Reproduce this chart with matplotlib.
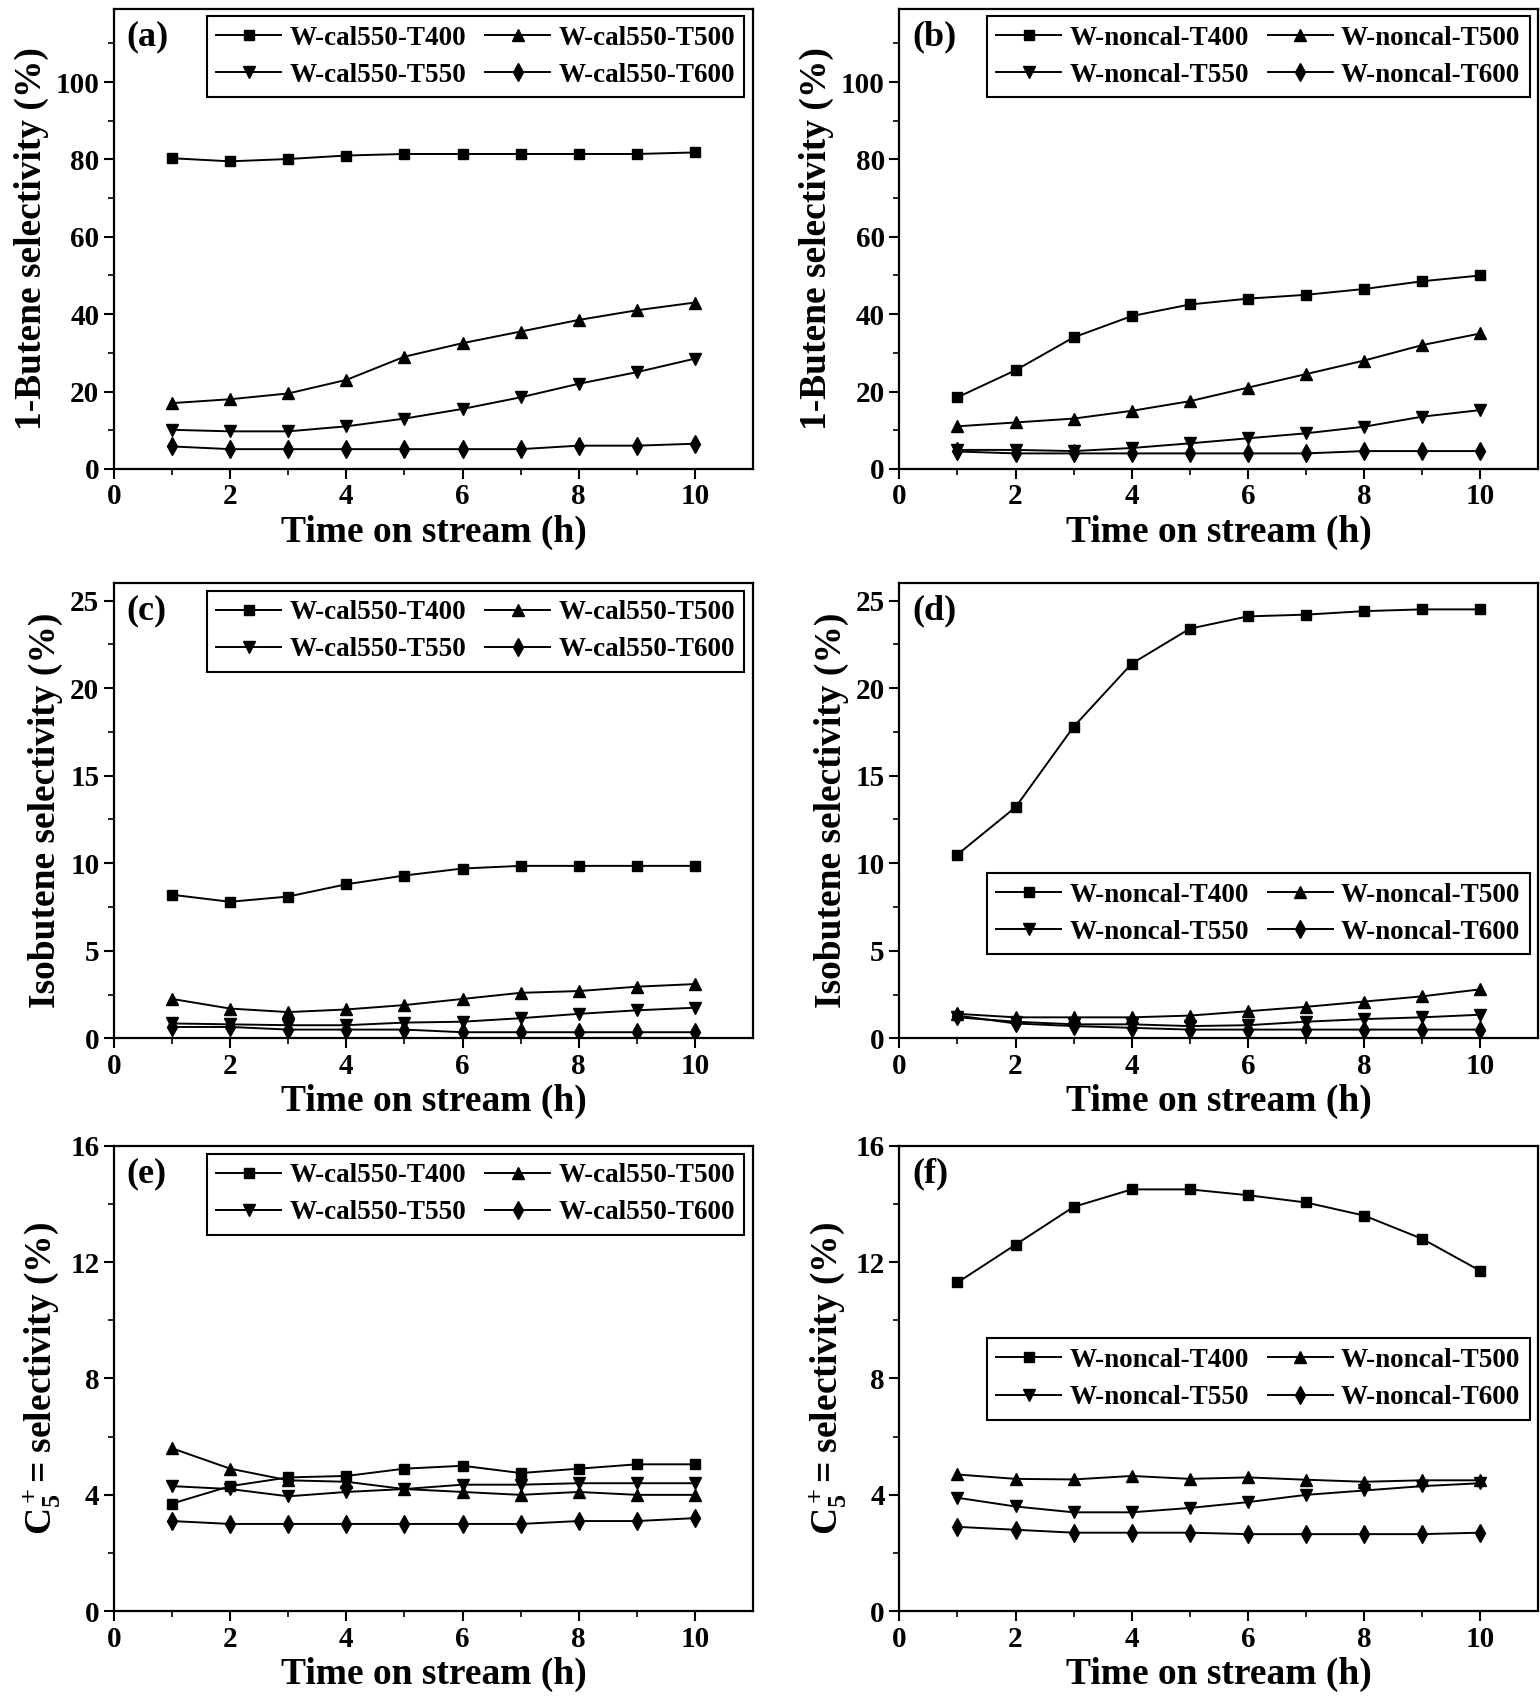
import numpy as np
import matplotlib.pyplot as plt

plt.rcParams['font.family'] = ['Liberation Serif', 'DejaVu Serif']
plt.rcParams['font.weight'] = 'bold'
plt.rcParams['mathtext.fontset'] = 'custom'
plt.rcParams['mathtext.rm'] = 'Liberation Serif:bold'
plt.rcParams['mathtext.it'] = 'Liberation Serif:bold'
plt.rcParams['mathtext.bf'] = 'Liberation Serif:bold'

# time on stream (h)
hours = [1, 2, 3, 4, 5, 6, 7, 8, 9, 10]

# 1-butene selectivity (%)
but_cal_400 = [80.3, 79.5, 80.1, 81.0, 81.4, 81.4, 81.4, 81.4, 81.4, 81.8]
but_cal_500 = [17.0, 18.0, 19.5, 23.0, 29.0, 32.5, 35.5, 38.5, 41.0, 43.0]
but_cal_550 = [10.1, 9.7, 9.7, 11.0, 13.0, 15.5, 18.5, 22.0, 25.0, 28.5]
but_cal_600 = [5.8, 5.1, 5.1, 5.1, 5.1, 5.1, 5.1, 6.0, 6.0, 6.5]

but_non_400 = [18.5, 25.5, 34.0, 39.5, 42.5, 44.0, 45.0, 46.5, 48.5, 50.0]
but_non_500 = [11.0, 12.0, 13.0, 15.0, 17.5, 21.0, 24.5, 28.0, 32.0, 35.0]
but_non_550 = [4.9, 4.9, 4.6, 5.4, 6.6, 7.9, 9.2, 10.9, 13.5, 15.2]
but_non_600 = [4.5, 4.0, 4.0, 4.0, 4.0, 4.0, 4.0, 4.6, 4.6, 4.6]

# isobutene selectivity (%)
iso_cal_400 = [8.2, 7.8, 8.1, 8.8, 9.3, 9.7, 9.85, 9.85, 9.85, 9.85]
iso_cal_500 = [2.25, 1.7, 1.5, 1.65, 1.9, 2.25, 2.6, 2.7, 2.95, 3.1]
iso_cal_550 = [0.85, 0.8, 0.75, 0.75, 0.9, 0.95, 1.15, 1.4, 1.6, 1.75]
iso_cal_600 = [0.65, 0.65, 0.5, 0.5, 0.5, 0.35, 0.35, 0.35, 0.35, 0.35]

iso_non_400 = [10.5, 13.2, 17.8, 21.4, 23.4, 24.1, 24.2, 24.4, 24.5, 24.5]
iso_non_500 = [1.4, 1.2, 1.2, 1.2, 1.3, 1.55, 1.8, 2.1, 2.4, 2.8]
iso_non_550 = [1.2, 0.95, 0.8, 0.8, 0.7, 0.75, 0.95, 1.1, 1.2, 1.35]
iso_non_600 = [1.3, 0.85, 0.7, 0.6, 0.5, 0.5, 0.5, 0.5, 0.5, 0.5]

# C5+ olefin selectivity (%)
c5_cal_400 = [3.7, 4.3, 4.6, 4.65, 4.9, 5.0, 4.75, 4.9, 5.05, 5.05]
c5_cal_500 = [5.6, 4.9, 4.5, 4.45, 4.2, 4.1, 4.0, 4.1, 4.0, 4.0]
c5_cal_550 = [4.3, 4.2, 3.95, 4.1, 4.2, 4.35, 4.35, 4.4, 4.4, 4.4]
c5_cal_600 = [3.1, 3.0, 3.0, 3.0, 3.0, 3.0, 3.0, 3.1, 3.1, 3.2]

c5_non_400 = [11.3, 12.6, 13.9, 14.5, 14.5, 14.3, 14.05, 13.6, 12.8, 11.7]
c5_non_500 = [4.7, 4.55, 4.53, 4.65, 4.55, 4.6, 4.52, 4.45, 4.5, 4.5]
c5_non_550 = [3.9, 3.6, 3.4, 3.4, 3.55, 3.75, 4.0, 4.15, 4.3, 4.4]
c5_non_600 = [2.9, 2.8, 2.7, 2.7, 2.7, 2.65, 2.65, 2.65, 2.65, 2.7]

temps = ['T400', 'T500', 'T550', 'T600']
markers = ['s', '^', 'v', 'd']
msizes = [7, 8, 8, 9]

# tag, legend prefix, series, y label, ylim top, last major tick, major step, minor step, legend y
panels = [
    ('(a)', 'W-cal550-', [but_cal_400, but_cal_500, but_cal_550, but_cal_600],
     '1-Butene selectivity (%)', 119, 100, 20, 10, None),
    ('(b)', 'W-noncal-', [but_non_400, but_non_500, but_non_550, but_non_600],
     '1-Butene selectivity (%)', 119, 100, 20, 10, None),
    ('(c)', 'W-cal550-', [iso_cal_400, iso_cal_500, iso_cal_550, iso_cal_600],
     'Isobutene selectivity (%)', 26, 25, 5, 2.5, None),
    ('(d)', 'W-noncal-', [iso_non_400, iso_non_500, iso_non_550, iso_non_600],
     'Isobutene selectivity (%)', 26, 25, 5, 2.5, 0.173),
    ('(e)', 'W-cal550-', [c5_cal_400, c5_cal_500, c5_cal_550, c5_cal_600],
     r'C$_5^+$= selectivity (%)', 16, 16, 4, 2, None),
    ('(f)', 'W-noncal-', [c5_non_400, c5_non_500, c5_non_550, c5_non_600],
     r'C$_5^+$= selectivity (%)', 16, 16, 4, 2, 0.40),
]

fig = plt.figure(figsize=(15.4, 17.05), dpi=100)
lefts = [0.074, 0.584]
bottoms = [0.725, 0.391, 0.055]
heights = [0.270, 0.267, 0.273]

for i, (tag, prefix, series, ylab, ymax, ytop, ymaj, ymin, leg_y) in enumerate(panels):
    row, col = i // 2, i % 2
    ax = fig.add_axes([lefts[col], bottoms[row], 0.415, heights[row]])
    handles = []
    for vals, t, m, ms in zip(series, temps, markers, msizes):
        h, = ax.plot(hours, vals, color='black', lw=1.4, marker=m, ms=ms,
                     label=prefix + t)
        handles.append(h)
    ax.set_xlim(0, 11)
    ax.set_ylim(0, ymax)
    ax.set_xticks(np.arange(0, 11, 2))
    ax.set_xticks(np.arange(1, 11, 2), minor=True)
    ax.set_yticks(np.arange(0, ytop + 0.01, ymaj))
    ax.set_yticks(np.arange(0, ymax + 0.01, ymin), minor=True)
    ax.tick_params(which='major', direction='out', length=7, width=1.5,
                   labelsize=21, top=False, right=False)
    ax.tick_params(which='minor', direction='out', length=4, width=1.2,
                   top=False, right=False)
    for sp in ax.spines.values():
        sp.set_linewidth(1.6)
    ax.set_xlabel('Time on stream (h)', fontsize=27, fontweight='bold', labelpad=3)
    ax.set_ylabel(ylab, fontsize=27, fontweight='bold', labelpad=5)
    ax.text(0.02, 0.975, tag, transform=ax.transAxes, fontsize=26,
            fontweight='bold', va='top', ha='left')

    order = [handles[0], handles[2], handles[1], handles[3]]
    if leg_y is None:
        kw = dict(loc='upper right', bbox_to_anchor=(0.995, 0.995))
    else:
        kw = dict(loc='lower right', bbox_to_anchor=(0.995, leg_y))
    leg = ax.legend(order, [h.get_label() for h in order], ncol=2,
                    fontsize=19.5, frameon=True, fancybox=False,
                    edgecolor='black', handlelength=2.4, handletextpad=0.3,
                    columnspacing=0.7, labelspacing=0.45, borderpad=0.35,
                    borderaxespad=0.2, **kw)
    leg.get_frame().set_linewidth(1.5)
    leg.get_frame().set_alpha(1)

fig.savefig('out.png', dpi=100)
